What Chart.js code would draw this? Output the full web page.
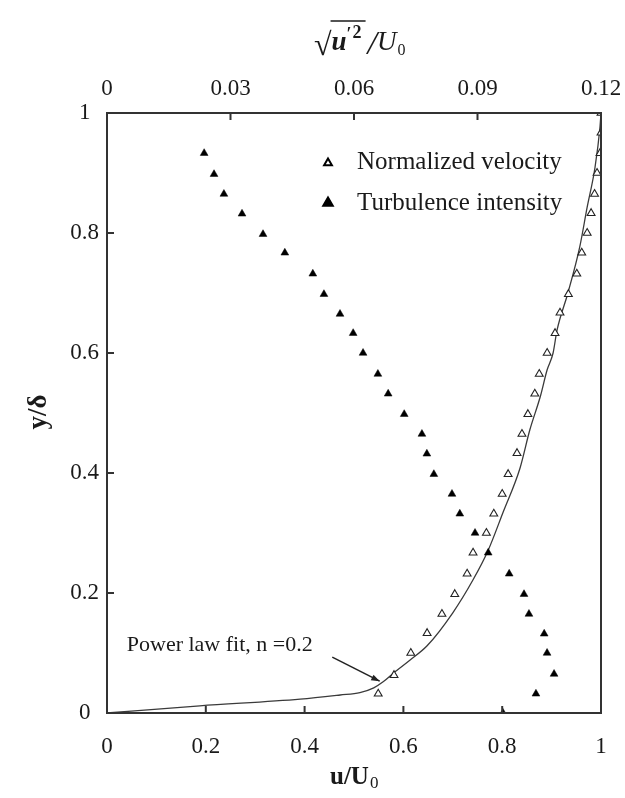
<!DOCTYPE html>
<html>
<head>
<meta charset="utf-8">
<script src="https://cdn.jsdelivr.net/npm/chart.js@4.4.1/dist/chart.umd.min.js"></script>
<style>
  html, body { margin: 0; padding: 0; background: #fff; }
  #wrap { width: 625px; height: 798px; position: relative; }
</style>
</head>
<body>
<div id="wrap"><canvas id="chart"></canvas></div>
<script>
// normalized velocity u/U0 vs y/delta (open triangles, bottom axis)
var velY = [0.032, 0.063, 0.100, 0.133, 0.165, 0.198, 0.232, 0.267, 0.300, 0.332,
            0.365, 0.398, 0.433, 0.465, 0.498, 0.532, 0.565, 0.600, 0.633, 0.667,
            0.698, 0.732, 0.767, 0.800, 0.833, 0.865, 0.900, 0.933, 0.967, 1.000]
var velX = [0.549, 0.581, 0.615, 0.648, 0.678, 0.704, 0.729, 0.741, 0.768, 0.783,
            0.800, 0.812, 0.830, 0.840, 0.852, 0.866, 0.875, 0.891, 0.907, 0.917,
            0.934, 0.951, 0.961, 0.972, 0.980, 0.987, 0.992, 0.998, 1.000, 1.000]

// turbulence intensity sqrt(u'^2)/U0 (filled triangles, top axis)
var turbY = [0.000, 0.032, 0.065, 0.100, 0.132, 0.165, 0.198, 0.232, 0.267, 0.300,
             0.332, 0.365, 0.398, 0.432, 0.465, 0.498, 0.532, 0.565, 0.600, 0.633,
             0.665, 0.698, 0.732, 0.767, 0.798, 0.832, 0.865, 0.898, 0.933]
var turbI = [0.0962, 0.1042, 0.1086, 0.1069, 0.1062, 0.1025, 0.1013, 0.0977, 0.0926, 0.0894,
             0.0857, 0.0838, 0.0794, 0.0777, 0.0765, 0.0722, 0.0683, 0.0658, 0.0622, 0.0598,
             0.0566, 0.0527, 0.0500, 0.0432, 0.0379, 0.0328, 0.0284, 0.0260, 0.0236]

// power law fit curve, n = 0.2
var fitX = [0, 0.188, 0.391, 0.472, 0.512, 0.540, 0.559, 0.579, 0.613, 0.648, 0.700,
            0.741, 0.771, 0.802, 0.836, 0.856, 0.877, 0.891, 0.903, 0.911, 0.933,
            0.957, 0.972, 0.988, 0.998, 1.0]
var fitY = [0, 0.012, 0.023, 0.030, 0.034, 0.042, 0.052, 0.066, 0.088, 0.112, 0.167,
            0.222, 0.270, 0.335, 0.408, 0.472, 0.527, 0.572, 0.600, 0.638, 0.700,
            0.777, 0.843, 0.910, 0.977, 1.0]

var xTicks = ['0', '0.2', '0.4', '0.6', '0.8', '1']
var topTicks = ['0', '0.03', '0.06', '0.09', '0.12']
var yTicks = ['0', '0.2', '0.4', '0.6', '0.8', '1']

var serif = '"Liberation Serif", "Times New Roman", serif'
var ink = '#1a1a1a'

function pts(xs, ys) {
	var out = []
	for (var i = 0; i < xs.length; i++)
		out.push({x: xs[i], y: ys[i]})
	return out
}

function noPad(s) {
	s.paddingLeft = 0; s.paddingRight = 0
	s.paddingTop = 0; s.paddingBottom = 0
}

var decor = {
	id: 'decor',
	afterDraw: function(chart) {
		var ctx = chart.ctx
		var a = chart.chartArea
		var sx = chart.scales.x, sy = chart.scales.y, st = chart.scales.x2
		ctx.save()

		// frame
		ctx.strokeStyle = '#333'
		ctx.lineWidth = 2
		ctx.strokeRect(a.left, a.top, a.right - a.left, a.bottom - a.top)

		// inward tick marks
		ctx.beginPath()
		for (var i = 1; i < xTicks.length - 1; i++) {
			var px = sx.getPixelForValue(i * 0.2)
			ctx.moveTo(px, a.bottom); ctx.lineTo(px, a.bottom - 7)
		}
		for (i = 1; i < topTicks.length - 1; i++) {
			var pt = st.getPixelForValue(i * 0.03)
			ctx.moveTo(pt, a.top); ctx.lineTo(pt, a.top + 7)
		}
		for (i = 1; i < yTicks.length - 1; i++) {
			var py = sy.getPixelForValue(i * 0.2)
			ctx.moveTo(a.left, py); ctx.lineTo(a.left + 7, py)
		}
		ctx.stroke()

		// legend
		var lx = a.left + 221
		ctx.fillStyle = '#fff'
		ctx.strokeStyle = '#000'
		Chart.helpers.drawPoint(ctx, {pointStyle: 'triangle', radius: 4.5, borderWidth: 1.2}, lx, 163)
		ctx.fillStyle = '#000'
		Chart.helpers.drawPoint(ctx, {pointStyle: 'triangle', radius: 5.5, borderWidth: 1}, lx, 203)
		ctx.fillStyle = ink
		ctx.font = '25px ' + serif
		ctx.textBaseline = 'middle'
		ctx.textAlign = 'left'
		ctx.fillText('Normalized velocity', lx + 29, 162)
		ctx.fillText('Turbulence intensity', lx + 29, 203)

		// annotation
		ctx.font = '22px ' + serif
		ctx.fillText('Power law fit, n =0.2', sx.getPixelForValue(0.04), sy.getPixelForValue(0.113))
		var x0 = sx.getPixelForValue(0.456), y0 = sy.getPixelForValue(0.093)
		var x1 = sx.getPixelForValue(0.552), y1 = sy.getPixelForValue(0.053)
		ctx.strokeStyle = '#222'
		ctx.lineWidth = 1.5
		ctx.beginPath(); ctx.moveTo(x0, y0); ctx.lineTo(x1, y1); ctx.stroke()
		var ang = Math.atan2(y1 - y0, x1 - x0)
		ctx.beginPath()
		ctx.moveTo(x1, y1)
		ctx.lineTo(x1 - 9 * Math.cos(ang - 0.35), y1 - 9 * Math.sin(ang - 0.35))
		ctx.lineTo(x1 - 9 * Math.cos(ang + 0.35), y1 - 9 * Math.sin(ang + 0.35))
		ctx.closePath()
		ctx.fillStyle = '#222'
		ctx.fill()

		// bottom axis title u/U0
		ctx.fillStyle = ink
		ctx.textBaseline = 'alphabetic'
		ctx.font = 'bold 25px ' + serif
		var bx = 330
		ctx.fillText('u/U', bx, 784)
		var w = ctx.measureText('u/U').width
		ctx.font = '17px ' + serif
		ctx.fillText('0', bx + w + 1, 788)

		// left axis title y/delta
		ctx.save()
		ctx.translate(46, 412)
		ctx.rotate(-Math.PI / 2)
		ctx.font = 'bold 27px ' + serif
		ctx.textAlign = 'center'
		ctx.fillText('y/\u03b4', 0, 0)
		ctx.restore()

		// top axis title sqrt(u'^2)/U0
		var tx = 314, tb = 50
		ctx.font = '32px ' + serif
		ctx.fillText('\u221a', tx, tb + 5)
		var rw = ctx.measureText('\u221a').width
		ctx.font = 'italic bold 27px ' + serif
		var ux = tx + rw
		ctx.fillText('u', ux, tb)
		var uw = ctx.measureText('u').width
		ctx.font = 'bold 18px ' + serif
		ctx.fillText('\u2032', ux + uw, tb - 10)
		ctx.fillText('2', ux + uw + 6, tb - 12)
		var ow = uw + 17
		ctx.strokeStyle = ink
		ctx.lineWidth = 1.3
		ctx.beginPath(); ctx.moveTo(ux - 1, 21); ctx.lineTo(ux + ow + 2, 21); ctx.stroke()
		ctx.font = 'italic 34px ' + serif
		var sl = ux + ow + 4
		ctx.fillText('/', sl, tb + 4)
		var slw = ctx.measureText('/').width
		ctx.font = 'italic 27px ' + serif
		ctx.fillText('U', sl + slw, tb)
		var Uw = ctx.measureText('U').width
		ctx.font = '16px ' + serif
		ctx.fillText('0', sl + slw + Uw + 1, tb + 5)

		ctx.restore()
	}
}

var tickFont = {family: serif, size: 23}

new Chart(document.getElementById('chart'), {
	type: 'scatter',
	data: {
		datasets: [
			{
				label: 'Normalized velocity',
				data: pts(velX, velY),
				xAxisID: 'x',
				pointStyle: 'triangle',
				pointRadius: 4.5,
				pointBackgroundColor: '#fff',
				pointBorderColor: '#222',
				pointBorderWidth: 1.1
			},
			{
				label: 'Turbulence intensity',
				data: pts(turbI, turbY),
				xAxisID: 'x2',
				pointStyle: 'triangle',
				pointRadius: 4.5,
				pointBackgroundColor: '#000',
				pointBorderColor: '#000',
				pointBorderWidth: 0.5
			},
			{
				label: 'Power law fit, n =0.2',
				data: pts(fitX, fitY),
				xAxisID: 'x',
				showLine: true,
				pointRadius: 0,
				borderColor: '#3a3a3a',
				borderWidth: 1.3,
				tension: 0.3,
				cubicInterpolationMode: 'monotone'
			}
		]
	},
	options: {
		responsive: true,
		maintainAspectRatio: false,
		animation: false,
		layout: {padding: {left: 0, right: 24, top: 0, bottom: 0}},
		plugins: {
			legend: {display: false},
			tooltip: {enabled: false}
		},
		scales: {
			x: {
				type: 'linear',
				position: 'bottom',
				min: 0, max: 1,
				grid: {display: false},
				border: {display: false},
				ticks: {
					stepSize: 0.2,
					maxRotation: 0,
					color: ink,
					font: tickFont,
					padding: 12,
					callback: function(v, i) { return xTicks[i] }
				},
				afterFit: function(s) { s.height = 85; noPad(s) }
			},
			x2: {
				type: 'linear',
				position: 'top',
				min: 0, max: 0.12,
				grid: {display: false},
				border: {display: false},
				ticks: {
					stepSize: 0.03,
					maxRotation: 0,
					color: ink,
					font: tickFont,
					padding: 2,
					callback: function(v, i) { return topTicks[i] }
				},
				afterFit: function(s) { s.height = 113; noPad(s) }
			},
			y: {
				type: 'linear',
				min: 0, max: 1,
				grid: {display: false},
				border: {display: false},
				ticks: {
					stepSize: 0.2,
					color: ink,
					font: tickFont,
					padding: 0,
					crossAlign: 'center',
					callback: function(v, i) { return yTicks[i] }
				},
				afterFit: function(s) { s.width = 107; noPad(s) }
			}
		}
	},
	plugins: [decor]
})
</script>
</body>
</html>
